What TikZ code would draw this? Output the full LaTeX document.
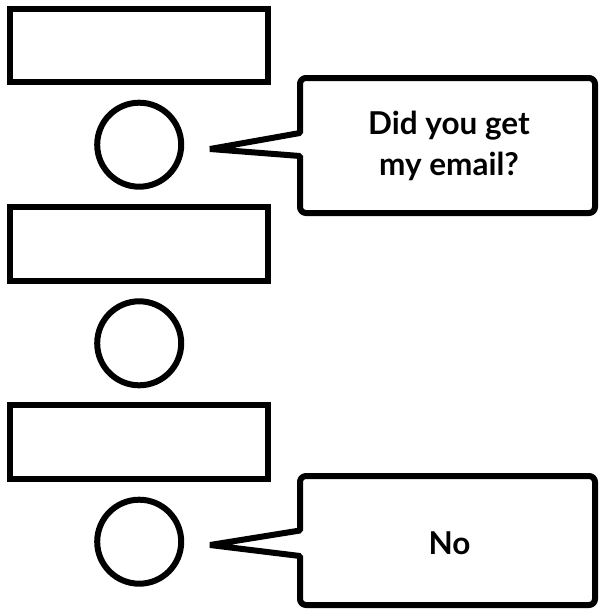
\documentclass[tikz,border=0pt]{standalone}
\usepackage{fontspec}
\setmainfont{Lato}
\begin{document}
\begin{tikzpicture}[x=1pt,y=-1pt,
  every path/.style={line width=6pt},
  slot/.style={draw, line width=6pt, minimum width=257.4pt, inner sep=0pt},
  dot/.style={draw, circle, line width=6pt, minimum size=84pt, inner sep=0pt},
  bubble/.style={draw, line width=6pt, fill=white, line join=bevel},
  saying/.style={font=\bfseries\fontsize{31.5}{40.5}\selectfont, align=center, inner sep=0pt}
]
\useasboundingbox (0,0) rectangle (599,613);

% three stacked boxes
\node[slot, minimum height=73pt] (box1) at (139,45.5) {};
\node[slot, minimum height=74pt] (box2) at (139,244) {};
\node[slot, minimum height=74pt] (box3) at (139,442.3) {};

% three circles between them
\node[dot] (face1) at (139.2,144.7) {};
\node[dot] (face2) at (139.2,343.3) {};
\node[dot] (face3) at (139.2,541.7) {};

% tips of the speech pointers
\coordinate (tip1) at (210,149);
\coordinate (tip3) at (210,545);

% first speech bubble
\draw[bubble] (tip1) -- (300,133) [rounded corners=6pt] -- (300,78) -- (595,78)
  -- (595,213) -- (300,213) [sharp corners] -- (300,156) -- cycle;
\node[saying] (say1) at (449,146) {Did you get\\my email?};

% second speech bubble
\draw[bubble] (tip3) -- (300,530.5) [rounded corners=6pt] -- (300,476) -- (595,476)
  -- (595,605) -- (300,605) [sharp corners] -- (300,556) -- cycle;
\node[saying] (say3) at (449.5,543) {No};
\end{tikzpicture}
\end{document}
